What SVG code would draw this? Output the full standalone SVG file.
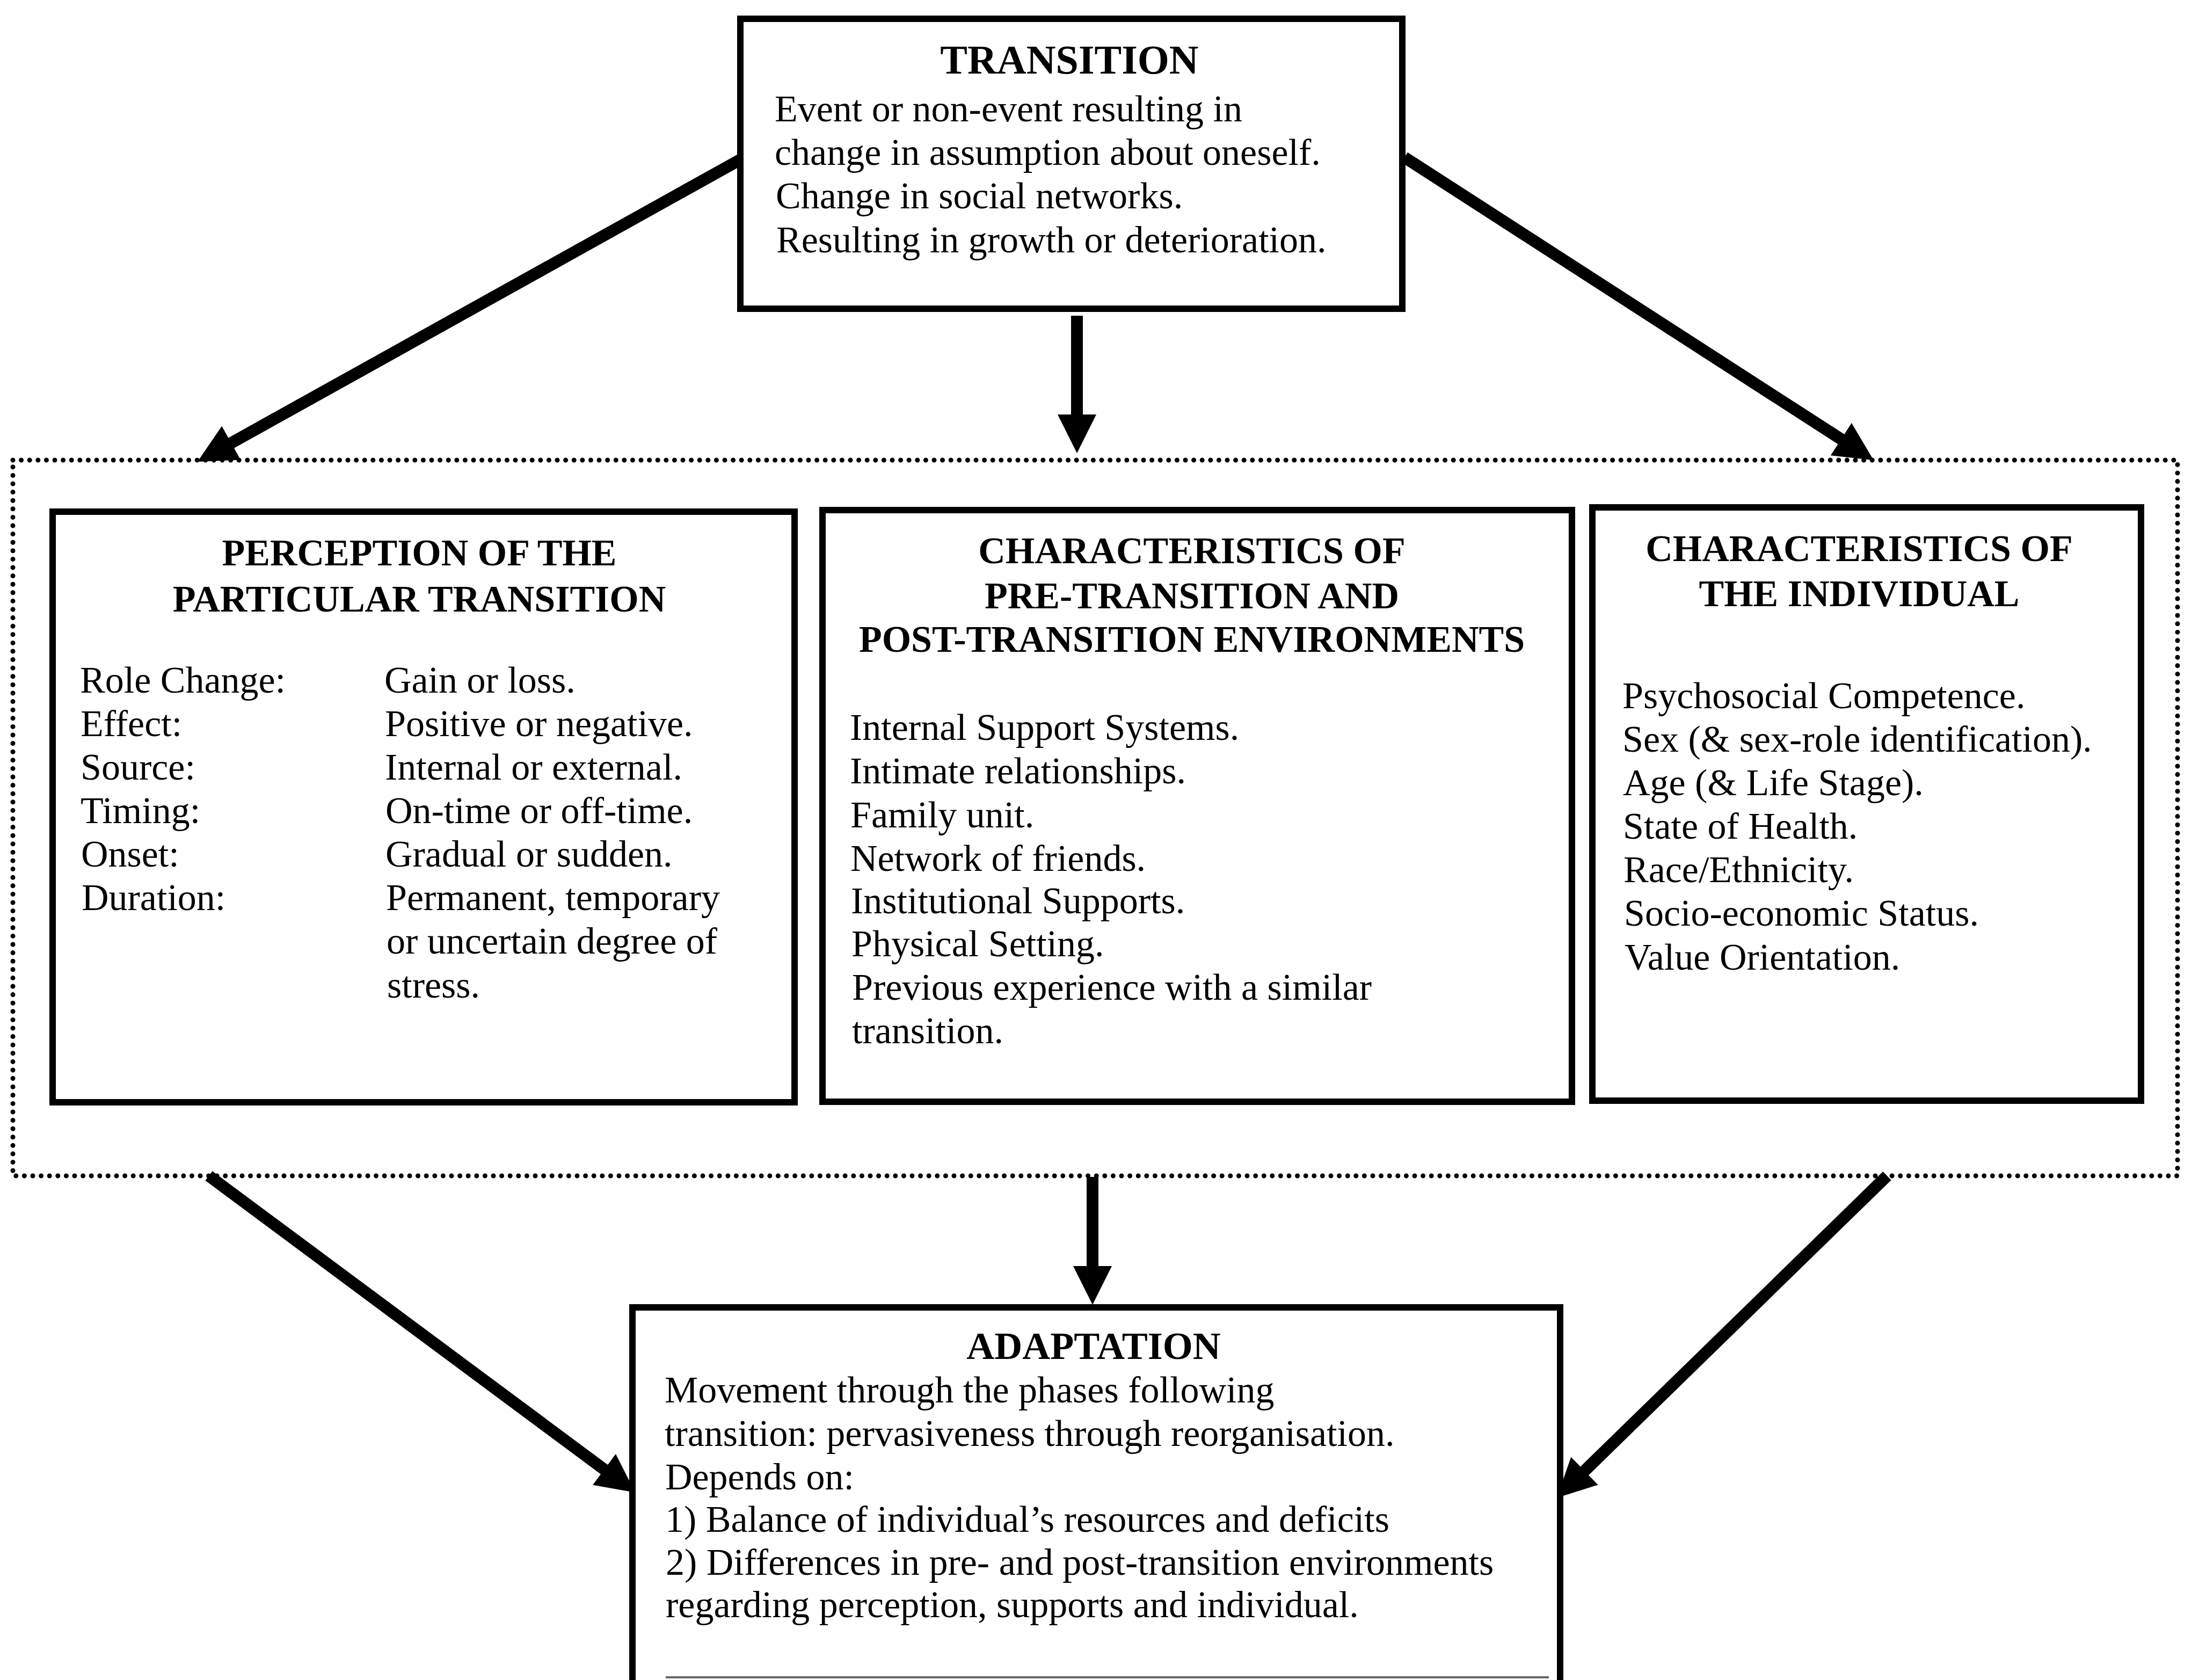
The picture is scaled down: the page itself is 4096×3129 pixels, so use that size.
<svg xmlns="http://www.w3.org/2000/svg" width="4096" height="3129" viewBox="0 0 4096 3129">
<style>
.bg{fill:#fff}
.box{fill:#fff;stroke:#000;stroke-width:12}
.t{font-family:"Liberation Serif","Times New Roman",serif;font-size:70px;fill:#000}
.h{font-weight:bold;text-anchor:middle}
.conn{stroke:#000;stroke-width:22;fill:none}
.dot{fill:none;stroke:#000;stroke-width:9;stroke-dasharray:0 15.6;stroke-linecap:round}
</style>
<defs>
<marker id="ah" markerUnits="userSpaceOnUse" markerWidth="90" markerHeight="90" viewBox="0 -45 90 90" refX="2" refY="0" orient="auto">
<path d="M0,-36 L72,0 L0,36 z" fill="#000"/>
</marker>
</defs>
<rect class="bg" x="0" y="0" width="4096" height="3129"/>
<g id="group-frame">
<rect class="dot" x="24" y="857" width="4032" height="1333"/>
</g>
<g id="connectors">
<line class="conn" x1="1383" y1="295" x2="429" y2="826" marker-end="url(#ah)"/>
<line class="conn" x1="2006" y1="588" x2="2006" y2="774" marker-end="url(#ah)"/>
<line class="conn" x1="2616" y1="293" x2="3431" y2="819" marker-end="url(#ah)"/>
<line class="conn" x1="389" y1="2190" x2="1127" y2="2738" marker-end="url(#ah)"/>
<line class="conn" x1="2035" y1="2192" x2="2035" y2="2360" marker-end="url(#ah)"/>
<line class="conn" x1="3515" y1="2190" x2="2950" y2="2741" marker-end="url(#ah)"/>
</g>
<g id="node-transition">
<rect class="box" x="1379" y="35" width="1233" height="540"/>
<text class="t h" x="1992" y="137" style="font-size:76px">TRANSITION</text>
<text class="t" x="1443" y="226">Event or non-event resulting in</text>
<text class="t" x="1443" y="307">change in assumption about oneself.</text>
<text class="t" x="1445" y="388">Change in social networks.</text>
<text class="t" x="1446" y="470">Resulting in growth or deterioration.</text>
</g>
<g id="node-perception">
<rect class="box" x="98" y="953" width="1382" height="1100"/>
<text class="t h" x="781" y="1053">PERCEPTION OF THE</text>
<text class="t h" x="781" y="1139">PARTICULAR TRANSITION</text>
<text class="t" x="149" y="1290">Role Change:</text>
<text class="t" x="150" y="1371">Effect:</text>
<text class="t" x="150" y="1452">Source:</text>
<text class="t" x="150" y="1533">Timing:</text>
<text class="t" x="151" y="1614">Onset:</text>
<text class="t" x="152" y="1695">Duration:</text>
<text class="t" x="716" y="1290">Gain or loss.</text>
<text class="t" x="717" y="1371">Positive or negative.</text>
<text class="t" x="717" y="1452">Internal or external.</text>
<text class="t" x="718" y="1533">On-time or off-time.</text>
<text class="t" x="718" y="1614">Gradual or sudden.</text>
<text class="t" x="719" y="1695">Permanent, temporary</text>
<text class="t" x="720" y="1776">or uncertain degree of</text>
<text class="t" x="721" y="1858">stress.</text>
</g>
<g id="node-environments">
<rect class="box" x="1532" y="950" width="1396" height="1102"/>
<text class="t h" x="2220" y="1049">CHARACTERISTICS OF</text>
<text class="t h" x="2220" y="1133">PRE-TRANSITION AND</text>
<text class="t h" x="2220" y="1214">POST-TRANSITION ENVIRONMENTS</text>
<text class="t" x="1583" y="1378">Internal Support Systems.</text>
<text class="t" x="1583" y="1459">Intimate relationships.</text>
<text class="t" x="1584" y="1541">Family unit.</text>
<text class="t" x="1584" y="1622">Network of friends.</text>
<text class="t" x="1585" y="1701">Institutional Supports.</text>
<text class="t" x="1586" y="1781">Physical Setting.</text>
<text class="t" x="1587" y="1862">Previous experience with a similar</text>
<text class="t" x="1587" y="1943">transition.</text>
</g>
<g id="node-individual">
<rect class="box" x="2966" y="945" width="1022" height="1105"/>
<text class="t h" x="3463" y="1045">CHARACTERISTICS OF</text>
<text class="t h" x="3463" y="1129">THE INDIVIDUAL</text>
<text class="t" x="3022" y="1319">Psychosocial Competence.</text>
<text class="t" x="3022" y="1400">Sex (&amp; sex-role identification).</text>
<text class="t" x="3023" y="1481">Age (&amp; Life Stage).</text>
<text class="t" x="3023" y="1562">State of Health.</text>
<text class="t" x="3024" y="1643">Race/Ethnicity.</text>
<text class="t" x="3025" y="1724">Socio-economic Status.</text>
<text class="t" x="3026" y="1806">Value Orientation.</text>
</g>
<g id="node-adaptation">
<rect class="box" x="1178" y="2435" width="1728" height="720"/>
<line x1="1240" y1="3124" x2="2885" y2="3124" stroke="#666" stroke-width="4"/>
<text class="t h" x="2037" y="2531" style="font-size:72px">ADAPTATION</text>
<text class="t" x="1238" y="2612">Movement through the phases following</text>
<text class="t" x="1238" y="2693">transition: pervasiveness through reorganisation.</text>
<text class="t" x="1239" y="2774">Depends on:</text>
<text class="t" x="1239" y="2853">1) Balance of individual’s resources and deficits</text>
<text class="t" x="1240" y="2933">2) Differences in pre- and post-transition environments</text>
<text class="t" x="1240" y="3012">regarding perception, supports and individual.</text>
</g>
</svg>
